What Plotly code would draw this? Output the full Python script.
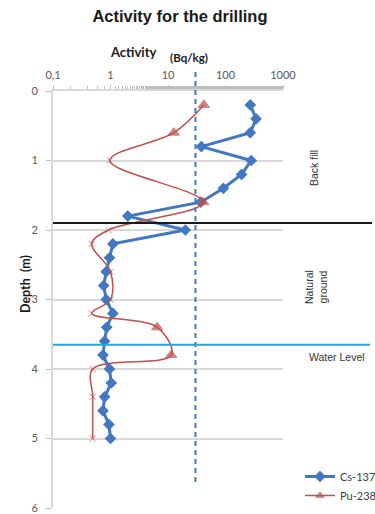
import plotly.graph_objects as go

# Sample depths (m) and activities (Bq/kg)
cs_depth = [0.2, 0.4, 0.6, 0.8, 1.0, 1.2, 1.4, 1.6, 1.8, 2.0, 2.2, 2.4, 2.6,
            2.8, 3.0, 3.2, 3.4, 3.6, 3.8, 4.0, 4.2, 4.4, 4.6, 4.8, 5.0]
cs_activity = [270, 340, 270, 38, 280, 190, 92, 37, 2.0, 20, 1.1, 0.96, 0.84,
               0.76, 0.84, 1.1, 0.86, 0.79, 0.74, 0.96, 1.03, 0.79, 0.74, 0.94, 1.0]

pu_depth = [0.2, 0.6, 1.0, 1.6, 2.0, 2.2, 2.6, 3.0, 3.2, 3.4, 3.8, 4.0, 4.4, 5.0]
pu_activity = [42, 12.6, 0.97, 41, 0.92, 0.47, 1.0, 1.0, 0.47, 6.5, 11.4, 0.49, 0.49, 0.49]
# True where the value is a measured activity, False where below detection limit
pu_measured = [True, True, False, True, False, False, False, False, False,
               True, True, False, False, False]

reference_activity = 30      # dashed reference level (Bq/kg)
backfill_bottom = 1.9        # depth of backfill / natural ground boundary (m)
water_level = 3.65           # water table depth (m)

x_tickvals = [0.1, 1, 10, 100, 1000]
x_ticktext = ["0,1", "1", "10", "100", "1000"]
depth_ticks = [0, 1, 2, 3, 4, 5, 6]

W, H = 375, 514
L, R, T, B = 53, 92, 91, 6
PW, PH = W - L - R, H - T - B


def px(x):
    return (x - L) / PW


def py(y):
    return (H - B - y) / PH


BLUE = "#4277C2"
RED = "#C0504D"
GRID = "#D9D9D9"

fig = go.Figure()

fig.add_trace(go.Scatter(
    x=cs_activity, y=cs_depth, name="Cs-137", mode="lines+markers",
    line=dict(color=BLUE, width=3),
    marker=dict(symbol="diamond", size=9, color=BLUE),
))

fig.add_trace(go.Scatter(
    x=pu_activity, y=pu_depth, name="Pu-238", mode="lines+markers",
    line=dict(color=RED, width=1.5, shape="spline", smoothing=1),
    marker=dict(
        symbol=["triangle-up" if m else "x-thin" for m in pu_measured],
        size=[10 if m else 6 for m in pu_measured],
        color=RED,
        line=dict(color=RED, width=1),
    ),
))

shapes = [
    dict(type="line", xref="x", yref="paper",
         x0=reference_activity, x1=reference_activity, y0=py(482), y1=py(70),
         line=dict(color=BLUE, width=2, dash="5px,4px")),
    dict(type="line", xref="paper", yref="y", x0=0, x1=px(372),
         y0=backfill_bottom, y1=backfill_bottom,
         line=dict(color="#1a1a1a", width=2)),
    dict(type="line", xref="paper", yref="y", x0=0, x1=px(370),
         y0=water_level, y1=water_level,
         line=dict(color="#1FA8E6", width=2)),
]


def label(text, x, y, size, family="Liberation Sans, Arial", color="#333333", angle=0):
    return dict(text=text, x=px(x), y=py(y), xref="paper", yref="paper",
                xanchor="center", yanchor="middle", showarrow=False,
                textangle=angle, font=dict(family=family, size=size, color=color))


annotations = [
    label("<b>Activity</b>", 133, 52, 13, "Lato, Arial", "#1a1a1a"),
    label("<b>(Bq/kg)</b>", 189, 57, 11.5, "Lato, Arial", "#1a1a1a"),
    label("<b>Depth  (m)</b>", 25, 284, 12.5, "Lato, Arial", "#1a1a1a", -90),
    label("Back fill", 314, 168, 10.5, angle=-90),
    label("Natural<br>ground", 316, 287, 10.5, angle=-90),
    label("Water Level", 337, 357, 10.5),
]

fig.update_layout(
    width=W, height=H,
    margin=dict(l=L, r=R, t=T, b=B, autoexpand=False),
    paper_bgcolor="white", plot_bgcolor="white",
    title=dict(text="<b>Activity for the drilling</b>", x=180 / W, xanchor="center",
               y=1 - 16 / H, yanchor="middle",
               font=dict(family="Liberation Sans, Arial", size=16.5, color="#1a1a1a")),
    shapes=shapes,
    annotations=annotations,
    showlegend=True,
    legend=dict(x=px(300), y=py(462), xanchor="left", yanchor="top",
                bgcolor="rgba(0,0,0,0)", itemwidth=30, tracegroupgap=4,
                font=dict(family="Lato, Arial", size=11, color="#404040")),
    xaxis=dict(
        type="log", range=[-1, 3], side="top",
        tickvals=x_tickvals, ticktext=x_ticktext,
        ticks="outside", ticklen=4, tickcolor="#BFBFBF",
        minor=dict(ticks="outside", ticklen=3, tickcolor="#BFBFBF", showgrid=False),
        showgrid=False, zeroline=False,
        showline=True, linecolor=GRID, linewidth=1.5,
        tickfont=dict(family="Lato, Arial", size=11, color="#595959"),
        ticklabelstandoff=2,
    ),
    yaxis=dict(
        range=[6, 0], tickvals=depth_ticks,
        ticks="outside", ticklen=5, tickcolor="#BFBFBF",
        showgrid=True, gridcolor=GRID, gridwidth=1.5,
        zeroline=False, showline=True, linecolor=GRID, linewidth=2,
        tickfont=dict(family="Lato, Arial", size=11, color="#595959"),
        ticklabelstandoff=6,
    ),
)

fig.write_html("out.html")
